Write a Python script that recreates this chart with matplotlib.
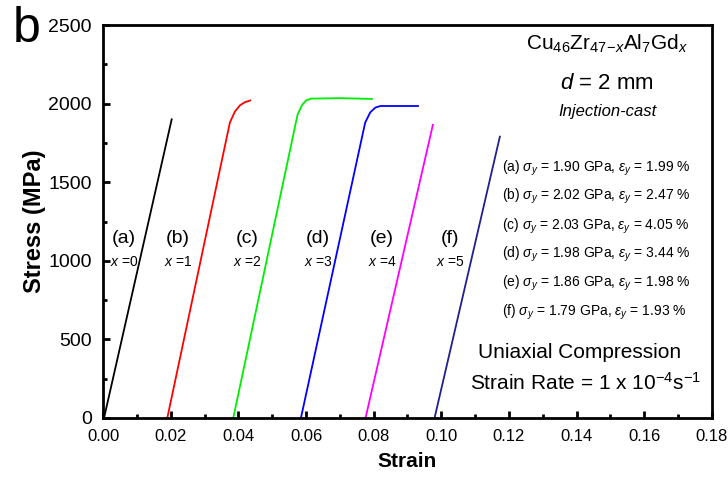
import matplotlib
matplotlib.rcParams.update({
    'font.family': ['Liberation Sans', 'DejaVu Sans'],
    'mathtext.fontset': 'custom',
    'mathtext.rm': 'Liberation Sans',
    'mathtext.it': 'Liberation Sans:italic',
    'mathtext.bf': 'Liberation Sans:bold',
    'xtick.direction': 'in',
    'ytick.direction': 'in',
})
import matplotlib.pyplot as plt
from matplotlib.ticker import MultipleLocator, FormatStrFormatter

# stress-strain curves (strain, MPa)
strain_a = [0.0003, 0.0203]
stress_a = [0, 1900]
strain_b = [0.0190, 0.0375, 0.0390, 0.0405, 0.0420, 0.0435]
stress_b = [0, 1880, 1950, 1990, 2010, 2020]
strain_c = [0.0385, 0.0575, 0.0588, 0.0600, 0.0615, 0.0700, 0.0795]
stress_c = [0, 1930, 1990, 2020, 2032, 2035, 2030]
strain_d = [0.0585, 0.0775, 0.0790, 0.0805, 0.0820, 0.0931]
stress_d = [0, 1880, 1945, 1975, 1985, 1985]
strain_e = [0.0776, 0.0975]
stress_e = [0, 1865]
strain_f = [0.0980, 0.1173]
stress_f = [0, 1790]

curves = [(strain_a, stress_a), (strain_b, stress_b), (strain_c, stress_c),
          (strain_d, stress_d), (strain_e, stress_e), (strain_f, stress_f)]
colors = ['black', '#ff0000', '#00ee00', '#0000ff', '#ff00ff', '#202090']

curve_labels = ['(a)', '(b)', '(c)', '(d)', '(e)', '(f)']
x_values = ['0', '1', '2', '3', '4', '5']
label_x = [0.0062, 0.0222, 0.0426, 0.0636, 0.0825, 0.1026]

sigma_y = ['1.90', '2.02', '2.03', '1.98', '1.86', '1.79']
eps_y = ['1.99', '2.47', '4.05', '3.44', '1.98', '1.93']

fig = plt.figure(figsize=(7.28, 4.82), dpi=100)
ax = fig.add_axes([0.1415, 0.1328, 0.8365, 0.8152])

for (sx, sy), c in zip(curves, colors):
    ax.plot(sx, sy, color=c, linewidth=1.3)

ax.set_xlim(0, 0.18)
ax.set_ylim(0, 2500)
ax.xaxis.set_major_locator(MultipleLocator(0.02))
ax.xaxis.set_minor_locator(MultipleLocator(0.01))
ax.yaxis.set_major_locator(MultipleLocator(500))
ax.yaxis.set_minor_locator(MultipleLocator(250))
ax.xaxis.set_major_formatter(FormatStrFormatter('%.2f'))
ax.tick_params(which='major', length=5, width=2, labelsize=12, pad=8)
ax.tick_params(axis='y', which='major', labelsize=14, pad=8)
ax.tick_params(which='minor', length=3, width=2)
for s in ax.spines.values():
    s.set_linewidth(2)

ax.set_xlabel('Strain', fontsize=15, fontweight='bold', labelpad=6)
ax.set_ylabel('Stress (MPa)', fontsize=17, fontweight='bold', labelpad=2)

for lx, lab, xv in zip(label_x, curve_labels, x_values):
    ax.text(lx, 1140, lab, fontsize=14, ha='center', va='center')
    ax.text(lx, 990, r'$\it{x}$ =' + xv, fontsize=10, ha='center', va='center')

ax.text(0.149, 2380, r'Cu$_{46}$Zr$_{47\!-\!x}$Al$_7$Gd$_x$', fontsize=15,
        ha='center', va='center')
ax.text(0.149, 2130, r'$\it{d}$ = 2 mm', fontsize=16, ha='center', va='center')
ax.text(0.149, 1950, 'Injection-cast', fontsize=12, style='italic',
        ha='center', va='center')

prop_y = [1590, 1410, 1220, 1040, 855, 670]
for i, py in enumerate(prop_y):
    ax.text(0.118, py,
            curve_labels[i] + r' $\sigma_y$ = ' + sigma_y[i] + r' GPa, $\varepsilon_y$ = ' + eps_y[i] + ' %',
            fontsize=10, ha='left', va='center')

ax.text(0.141, 415, 'Uniaxial Compression', fontsize=15, ha='center', va='center')
ax.text(0.1425, 225, r'Strain Rate = 1 x 10$^{-4}$s$^{-1}$', fontsize=15,
        ha='center', va='center')

fig.text(0.037, 0.94, 'b', fontsize=36, ha='center', va='center')

fig.savefig('out.png', dpi=100)
